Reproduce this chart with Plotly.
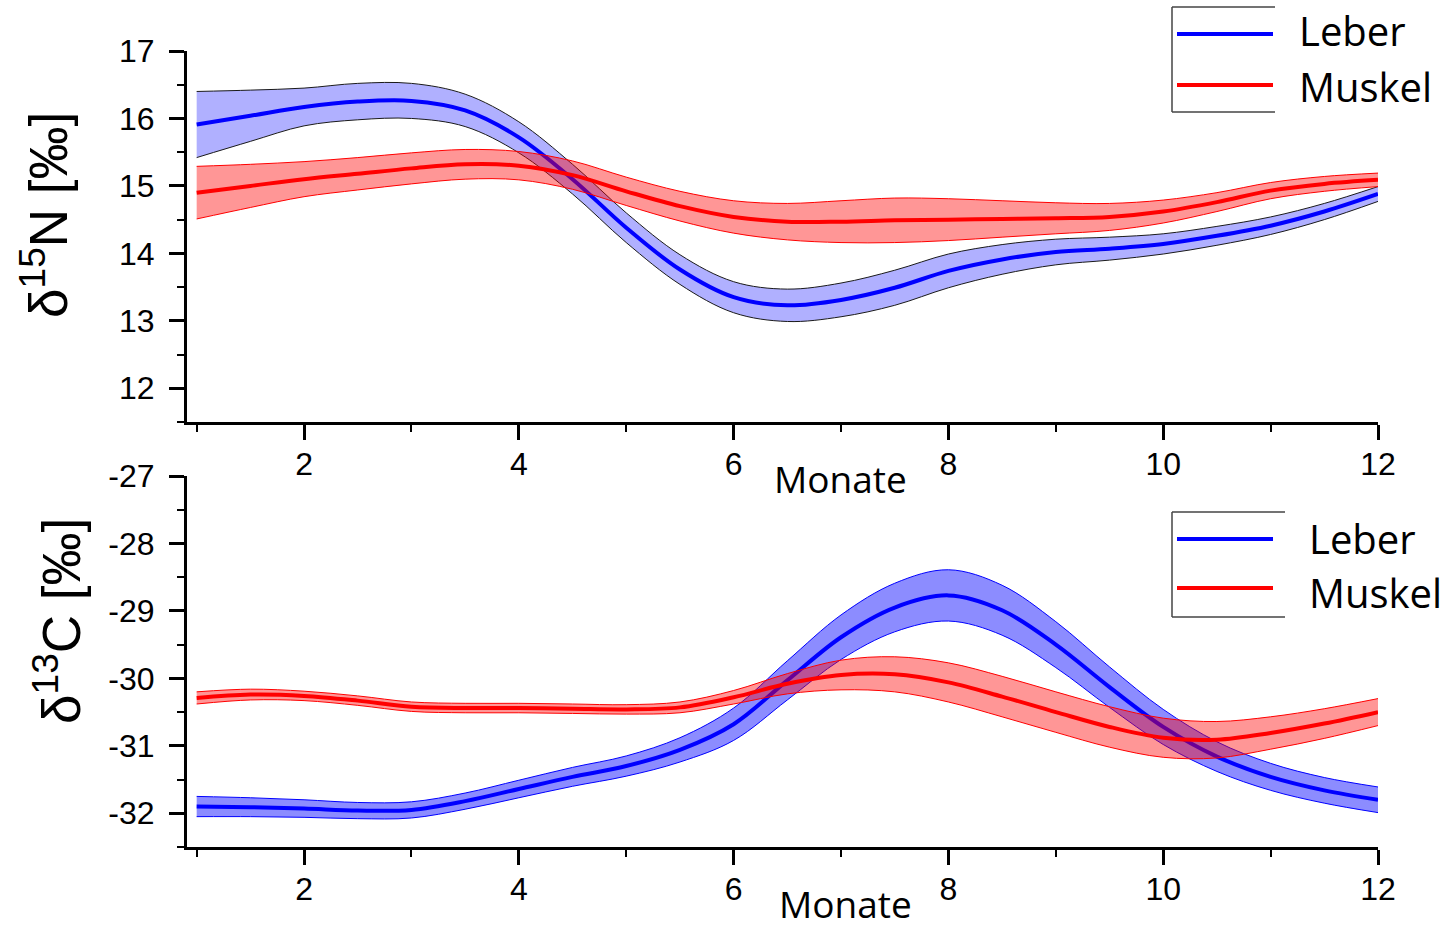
import plotly.graph_objects as go

# Monate (Stützstellen der geglätteten Verläufe)
monate = [1, 1.5, 2, 2.5, 3, 3.5, 4, 4.5, 5, 5.5, 6, 6.5, 7, 7.5, 8, 8.5,
          9, 9.5, 10, 10.5, 11, 11.5, 12]

# δ15N – Mittelwert und halbe Bandbreite
n15_leber = [15.91, 16.04, 16.17, 16.25, 16.26, 16.12, 15.72, 15.10, 14.38, 13.76,
             13.35, 13.23, 13.31, 13.49, 13.74, 13.91, 14.02, 14.07, 14.14, 14.26,
             14.41, 14.62, 14.88]
n15_leber_hw = [0.49, 0.38, 0.28, 0.27, 0.26, 0.24, 0.23, 0.22, 0.22, 0.22,
                0.23, 0.24, 0.25, 0.26, 0.25, 0.22, 0.19, 0.17, 0.15, 0.14,
                0.13, 0.12, 0.11]
n15_muskel = [14.90, 15.00, 15.10, 15.18, 15.26, 15.32, 15.30, 15.16, 14.92, 14.70,
              14.54, 14.47, 14.47, 14.49, 14.50, 14.51, 14.52, 14.54, 14.62, 14.76,
              14.93, 15.03, 15.09]
n15_muskel_hw = [0.39, 0.32, 0.26, 0.24, 0.23, 0.22, 0.21, 0.21, 0.21, 0.22,
                 0.24, 0.27, 0.31, 0.33, 0.31, 0.27, 0.23, 0.20, 0.17, 0.14,
                 0.12, 0.11, 0.10]

# δ13C – Mittelwert und halbe Bandbreite
c13_leber = [-31.90, -31.91, -31.93, -31.96, -31.95, -31.82, -31.64, -31.46, -31.30, -31.06,
             -30.68, -30.03, -29.39, -28.95, -28.77, -28.99, -29.50, -30.13, -30.72, -31.16,
             -31.46, -31.66, -31.80]
c13_leber_hw = [0.15, 0.14, 0.13, 0.12, 0.12, 0.12, 0.13, 0.14, 0.15, 0.18,
                0.24, 0.29, 0.33, 0.36, 0.38, 0.37, 0.34, 0.30, 0.26, 0.22,
                0.20, 0.19, 0.19]
c13_muskel = [-30.29, -30.24, -30.26, -30.33, -30.42, -30.44, -30.44, -30.45, -30.46, -30.43,
              -30.28, -30.08, -29.95, -29.94, -30.06, -30.27, -30.50, -30.72, -30.88, -30.91,
              -30.81, -30.67, -30.50]
c13_muskel_hw = [0.09, 0.08, 0.07, 0.07, 0.07, 0.07, 0.07, 0.07, 0.07, 0.08,
                 0.10, 0.15, 0.22, 0.26, 0.29, 0.30, 0.30, 0.30, 0.29, 0.27,
                 0.24, 0.22, 0.20]

x_ticks = [2, 4, 6, 8, 10, 12]
n15_ticks = [12, 13, 14, 15, 16, 17]
c13_ticks = [-32, -31, -30, -29, -28, -27]

W, H = 1449, 930
BLUE = "#0000ff"
RED = "#ff0000"

fig = go.Figure()


def band(x, mean, hw, fill, edge, xa, ya):
    lower = [m - h for m, h in zip(mean, hw)]
    upper = [m + h for m, h in zip(mean, hw)]
    fig.add_trace(go.Scatter(x=x, y=lower, mode="lines", line=dict(color=edge, width=1, shape="spline"),
                             xaxis=xa, yaxis=ya, showlegend=False, hoverinfo="skip"))
    fig.add_trace(go.Scatter(x=x, y=upper, mode="lines", line=dict(color=edge, width=1, shape="spline"),
                             fill="tonexty", fillcolor=fill,
                             xaxis=xa, yaxis=ya, showlegend=False, hoverinfo="skip"))


def mean_line(x, mean, color, xa, ya, name):
    fig.add_trace(go.Scatter(x=x, y=mean, mode="lines", name=name,
                             line=dict(color=color, width=4, shape="spline"),
                             xaxis=xa, yaxis=ya, showlegend=False))


# oberes Diagramm: δ15N
band(monate, n15_leber, n15_leber_hw, "rgba(0,0,255,0.31)", "#1a1a1a", "x", "y")
mean_line(monate, n15_leber, BLUE, "x", "y", "Leber")
band(monate, n15_muskel, n15_muskel_hw, "rgba(255,0,0,0.41)", RED, "x", "y")
mean_line(monate, n15_muskel, RED, "x", "y", "Muskel")

# unteres Diagramm: δ13C
band(monate, c13_leber, c13_leber_hw, "rgba(0,0,255,0.45)", BLUE, "x2", "y2")
mean_line(monate, c13_leber, BLUE, "x2", "y2", "Leber")
band(monate, c13_muskel, c13_muskel_hw, "rgba(255,0,0,0.41)", RED, "x2", "y2")
mean_line(monate, c13_muskel, RED, "x2", "y2", "Muskel")

tick_font = dict(family="Liberation Sans, Arial, sans-serif", size=32, color="black")
x_dom = [187 / W, 1378 / W]


def px_y(py):
    return 1 - py / H


def xaxis_cfg(anchor):
    return dict(domain=x_dom, range=[0.91, 12], anchor=anchor, automargin=False,
                tickmode="array", tickvals=x_ticks, ticktext=[str(v) for v in x_ticks],
                ticks="outside", ticklen=15, tickwidth=2.5, tickcolor="black",
                minor=dict(ticks="outside", ticklen=7, tickwidth=2, tickcolor="black",
                           tickmode="array", tickvals=[1, 3, 5, 7, 9, 11]),
                showline=True, linewidth=3, linecolor="black",
                showgrid=False, zeroline=False, tickfont=tick_font,
                ticklabelstandoff=-3)


def yaxis_cfg(anchor, dom, rng, vals, minor_vals):
    return dict(domain=dom, range=rng, anchor=anchor, automargin=False,
                tickmode="array", tickvals=vals, ticktext=[str(v) for v in vals],
                ticks="outside", ticklen=15, tickwidth=2.5, tickcolor="black",
                minor=dict(ticks="outside", ticklen=7, tickwidth=2, tickcolor="black",
                           tickmode="array", tickvals=minor_vals),
                showline=True, linewidth=3, linecolor="black",
                showgrid=False, zeroline=False, tickfont=tick_font,
                ticklabelstandoff=8)


layout = dict(
    width=W, height=H,
    margin=dict(l=0, r=0, t=0, b=0, autoexpand=False),
    paper_bgcolor="white", plot_bgcolor="white",
    showlegend=False,
    xaxis=xaxis_cfg("y"),
    yaxis=yaxis_cfg("x", [px_y(422), px_y(51)], [11.5, 17], n15_ticks,
                    [11.5, 12.5, 13.5, 14.5, 15.5, 16.5]),
    xaxis2=xaxis_cfg("y2"),
    yaxis2=yaxis_cfg("x2", [px_y(847), px_y(476)], [-32.5, -27], c13_ticks,
                     [-32.5, -31.5, -30.5, -29.5, -28.5, -27.5]),
)
fig.update_layout(**layout)

title_font = dict(family="Liberation Sans, Arial, sans-serif", size=53, color="black")
label_font = dict(family="Open Sans, sans-serif", size=37, color="black")
legend_font = dict(family="Open Sans, sans-serif", size=40, color="black")

annotations = [
    dict(text="δ<sup>15</sup>N [‰]", x=44 / W, y=px_y(215), textangle=-90, font=title_font,
         xanchor="center", yanchor="middle"),
    dict(text="δ<sup>13</sup>C [‰]", x=57 / W, y=px_y(621), textangle=-90, font=title_font,
         xanchor="center", yanchor="middle"),
    dict(text="Monate", x=840 / W, y=px_y(478), font=label_font, bgcolor="white",
         xanchor="center", yanchor="middle"),
    dict(text="Monate", x=845 / W, y=0, font=label_font, xanchor="center", yanchor="bottom",
         yshift=-1),
]
for a in annotations:
    a.update(xref="paper", yref="paper", showarrow=False)

# Legenden
shapes = []
legends = [
    dict(box=(1172, 1275, 7, 112), lines=(34, 85), text_x=1297, text_y=(31, 87)),
    dict(box=(1172, 1285, 512, 617), lines=(539, 588), text_x=1307, text_y=(538, 592)),
]
for lg in legends:
    x0, x1, y0, y1 = lg["box"]
    edge = dict(color="#444444", width=1.5)
    shapes.append(dict(type="line", xref="paper", yref="paper", x0=x0 / W, x1=x0 / W,
                       y0=px_y(y0), y1=px_y(y1), line=edge))
    shapes.append(dict(type="line", xref="paper", yref="paper", x0=x0 / W, x1=x1 / W,
                       y0=px_y(y0), y1=px_y(y0), line=edge))
    shapes.append(dict(type="line", xref="paper", yref="paper", x0=x0 / W, x1=x1 / W,
                       y0=px_y(y1), y1=px_y(y1), line=edge))
    for ly, col in zip(lg["lines"], [BLUE, RED]):
        shapes.append(dict(type="line", xref="paper", yref="paper", x0=1177 / W, x1=1273 / W,
                           y0=px_y(ly), y1=px_y(ly), line=dict(color=col, width=4)))
    for ty, name in zip(lg["text_y"], ["Leber", "Muskel"]):
        annotations.append(dict(text=name, xref="paper", yref="paper", x=lg["text_x"] / W,
                                y=px_y(ty), xanchor="left", yanchor="middle",
                                showarrow=False, font=legend_font))

fig.update_layout(annotations=annotations, shapes=shapes)

fig.write_html("out.html")
